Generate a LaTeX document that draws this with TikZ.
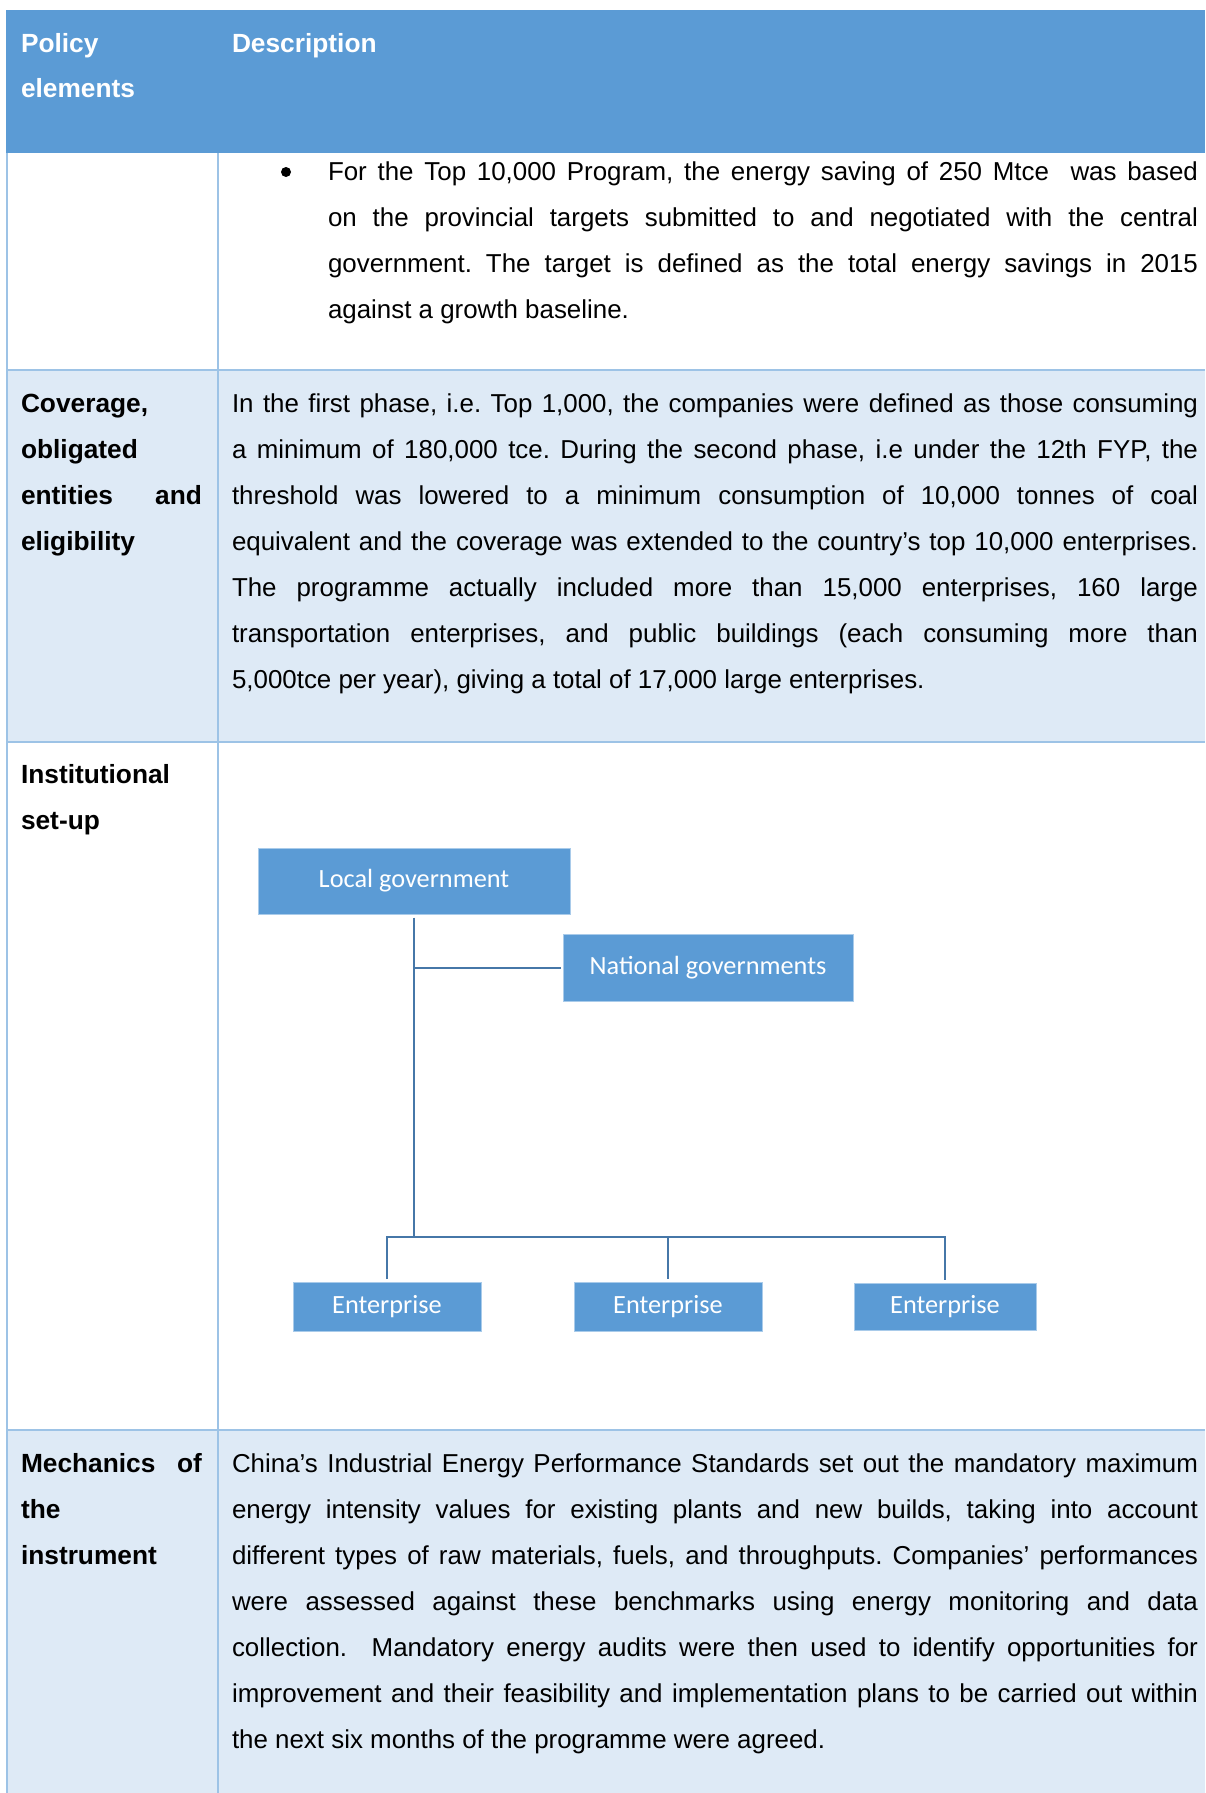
\documentclass[tikz,border=0pt]{standalone}
\usepackage{fontspec}
\setmainfont{Liberation Sans}
\newfontfamily\boxfont{Carlito}
\definecolor{headblue}{HTML}{5B9BD5}
\definecolor{lightrow}{HTML}{DEEAF6}
\definecolor{rulecol}{HTML}{9DC3E6}
\definecolor{conncol}{HTML}{4677A8}
\definecolor{boxedge}{HTML}{A9CBEA}
\tolerance=10000
\hyphenpenalty=10000
\exhyphenpenalty=10000
\frenchspacing
\begin{document}
\begin{tikzpicture}[x=0.5pt,y=-0.5pt,
  bodyfont/.style={font=\fontsize{12.95}{23}\selectfont},
  txt/.style={bodyfont, anchor=base west, inner sep=0pt, outer sep=0pt},
  para/.style={txt, text width=#1},
  jpara/.style={para=#1, align=justify},
  headtxt/.style={para=#1, text=white, font=\fontsize{13.15}{22.5}\selectfont\bfseries},
  lefttxt/.style={para=90.5pt, font=\fontsize{13.15}{23}\selectfont\bfseries},
  bulletdot/.style={circle, fill=black, minimum size=5pt, inner sep=0pt},
  orgbox/.style={draw=boxedge, line width=0.5pt, fill=headblue, text=white,
    font=\boxfont\fontsize{13.15}{15}\selectfont, inner sep=0pt, anchor=center},
  conn/.style={draw=conncol, line width=1pt},
  rowrule/.style={draw=rulecol, line width=1pt}]
\useasboundingbox (0,0) rectangle (1205,1793);
\fill[white] (0,0) rectangle (1205,1793);
% table backgrounds
\fill[headblue] (6,10) rectangle (1205,153);
\fill[lightrow] (7,370) rectangle (1205,742);
\fill[lightrow] (7,1430) rectangle (1205,1793);
% table rules
\draw[rowrule] (7,153) -- (7,1793);
\draw[rowrule] (218,153) -- (218,1793);
\draw[rowrule] (7,370) -- (1205,370);
\draw[rowrule] (7,742) -- (1205,742);
\draw[rowrule] (7,1430) -- (1205,1430);
% header
\node[headtxt=90.5pt] (hpol) at (21,53) {Policy\\elements};
\node[headtxt=200pt] (hdesc) at (232,53) {Description};
% row 1
\node[bulletdot] (bul) at (286,172) {};
\node[jpara=435pt] (r1) at (328,180) {For the Top 10,000 Program, the energy saving of 250 Mtce\ \ was based\linebreak
on the provincial targets submitted to and negotiated with the central\linebreak
government. The target is defined as the total energy savings in 2015\linebreak
against a growth baseline.};
% row 2
\node[lefttxt] (l2) at (21,412) {Coverage,\\obligated\\entities\hfill and\\eligibility};
\node[jpara=483pt] (r2) at (232,412) {In the first phase, i.e. Top 1,000, the companies were defined as those consuming\linebreak
a minimum of 180,000 tce. During the second phase, i.e under the 12th FYP, the\linebreak
threshold was lowered to a minimum consumption of 10,000 tonnes of coal\linebreak
equivalent and the coverage was extended to the country’s top 10,000 enterprises.\linebreak
The programme actually included more than 15,000 enterprises, 160 large\linebreak
transportation enterprises, and public buildings (each consuming more than\linebreak
5,000tce per year), giving a total of 17,000 large enterprises.};
% row 3
\node[lefttxt] (l3) at (21,783) {Institutional\\set-up};
\node[orgbox, minimum width=156pt, minimum height=33pt] (lg) at (414,881) {Local government};
\node[orgbox, minimum width=145pt, minimum height=33.5pt] (ng) at (708,967.5) {National governments};
\node[orgbox, minimum width=94pt, minimum height=24.5pt] (e1) at (387,1307) {Enterprise};
\node[orgbox, minimum width=94pt, minimum height=24.5pt] (e2) at (668,1307) {Enterprise};
\node[orgbox, minimum width=91pt, minimum height=23.5pt] (e3) at (945,1306.5) {Enterprise};
\coordinate (bus) at (414,1237);
\draw[conn, shorten <=1.5pt] (lg.south) -- (bus);
\draw[conn, shorten >=1pt] (lg.south |- ng.west) -- (ng.west);
\draw[conn, shorten <=1.5pt, shorten >=1.5pt] (e1.north) -- (e1.north |- bus) -- (e3.north |- bus) -- (e3.north);
\draw[conn, shorten >=1.5pt] (e2.north |- bus) -- (e2.north);
% row 4
\node[lefttxt] (l4) at (21,1472) {Mechanics\hfill of\\the\\instrument};
\node[jpara=483pt] (r4) at (232,1472) {China’s Industrial Energy Performance Standards set out the mandatory maximum\linebreak
energy intensity values for existing plants and new builds, taking into account\linebreak
different types of raw materials, fuels, and throughputs. Companies’ performances\linebreak
were assessed against these benchmarks using energy monitoring and data\linebreak
collection.\ \ Mandatory energy audits were then used to identify opportunities for\linebreak
improvement and their feasibility and implementation plans to be carried out within\linebreak
the next six months of the programme were agreed.};
\end{tikzpicture}
\end{document}
